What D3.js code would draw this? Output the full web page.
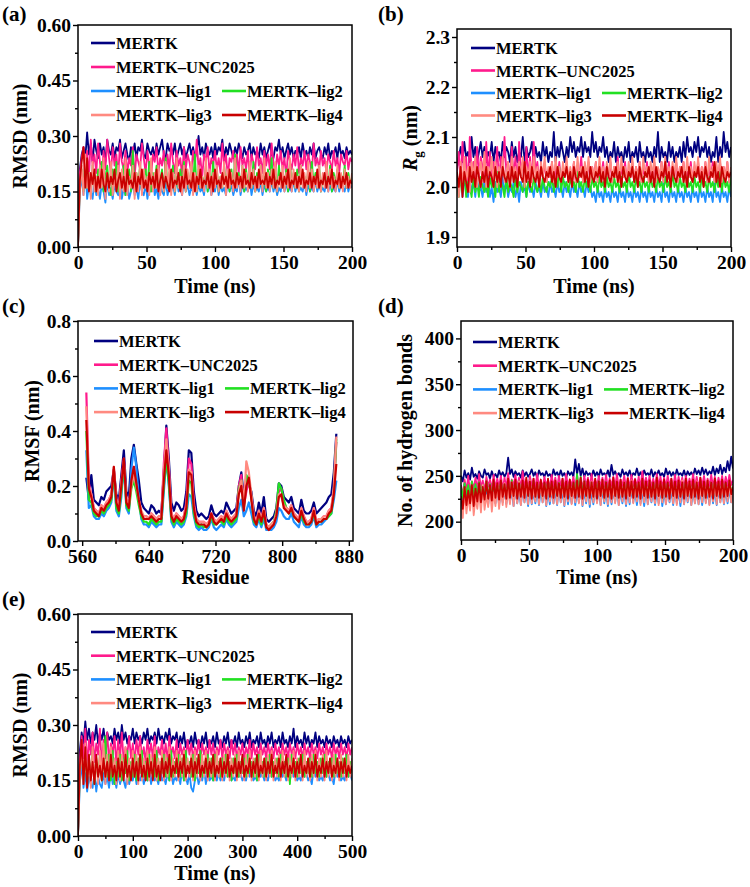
<!DOCTYPE html>
<html><head><meta charset="utf-8">
<script src="https://cdn.jsdelivr.net/npm/d3@7"></script>
<style>
body{margin:0;background:#fff}
svg text{font-family:"Liberation Serif","Times New Roman",serif;font-weight:bold;fill:#000}
</style>
</head><body><svg id="chart" width="750" height="887"></svg>
<script>
// ---------- series ----------
const seriesNames = ["MERTK","MERTK\u2013UNC2025","MERTK\u2013lig1","MERTK\u2013lig2","MERTK\u2013lig3","MERTK\u2013lig4"];
const seriesColors = ["#000080","#ff1a8c","#1e8fff","#22e022","#ff8a80","#c80000"];

// ---------- (a) RMSD, 0-200 ns ----------
const rmsdA_MERTK = [0,.21,.25,.27,.24,.31,.25,.28,.23,.29,.26,.24,.28,.25,.27,
.23,.29,.26,.25,.28,.24,.27,.26,.29,.24,.26,.28,.25,.23,.27,
.25,.28,.24,.27,.26,.29,.25,.24,.28,.26,.25,.27,.24,.28,.25,
.27,.29,.25,.24,.28,.26,.27,.25,.28,.24,.26,.28,.25,.27,.24,
.26,.28,.25,.27,.24,.26,.30,.25,.27,.24,.28,.26,.25,.27,.24,
.28,.25,.27,.26,.29,.24,.27,.25,.28,.26,.24,.27,.25,.28,.26,
.24,.27,.25,.26,.28,.24,.27,.25,.26,.24,.28,.25,.27,.24,.26,
.28,.25,.24,.27,.26,.29,.25,.27,.24,.26,.28,.25,.27,.24,.26,
.25,.27,.24,.28,.25,.26,.24,.27,.25,.28,.24,.26,.27,.25,.24,
.27,.25,.28,.24,.26,.25,.27,.24,.28,.25,.26,.24,.27,.25,.26,.25];
const rmsdA_UNC = [0,.20,.24,.27,.21,.26,.19,.29,.22,.25,.20,.28,.23,.19,.26,
.21,.29,.24,.20,.27,.22,.25,.19,.28,.23,.21,.26,.20,.24,.22,
.27,.19,.25,.23,.21,.28,.24,.20,.26,.22,.19,.25,.23,.27,.20,
.24,.22,.26,.19,.25,.21,.28,.23,.20,.26,.22,.24,.19,.27,.21,
.25,.23,.20,.26,.22,.29,.21,.24,.19,.25,.23,.27,.20,.24,.22,
.26,.21,.24,.20,.28,.22,.25,.19,.24,.23,.26,.21,.25,.20,.27,
.22,.24,.21,.26,.19,.25,.23,.21,.27,.22,.24,.20,.26,.22,.25,
.21,.28,.23,.20,.25,.22,.26,.21,.24,.19,.26,.23,.21,.25,.22,
.27,.20,.24,.22,.26,.21,.25,.23,.20,.28,.22,.24,.21,.26,.22,
.24,.20,.25,.23,.21,.26,.22,.24,.20,.25,.23,.22,.26,.21,.24,.23];
const rmsdA_lig1 = [0,.15,.19,.14,.22,.13,.17,.15,.13,.18,.14,.16,.13,.17,.15,
.12,.18,.14,.16,.13,.17,.15,.14,.19,.13,.16,.14,.18,.13,.15,
.17,.14,.16,.13,.18,.15,.14,.17,.13,.16,.15,.19,.14,.16,.13,
.17,.15,.14,.18,.14,.16,.15,.17,.14,.19,.15,.16,.14,.18,.15,
.17,.14,.16,.15,.18,.14,.17,.15,.16,.14,.19,.15,.17,.14,.16,
.15,.18,.14,.17,.15,.16,.14,.18,.15,.17,.14,.16,.15,.19,.14,
.17,.15,.16,.15,.18,.14,.17,.15,.16,.15,.18,.14,.17,.15,.16,
.15,.18,.15,.17,.14,.16,.15,.19,.15,.17,.15,.16,.15,.18,.15,
.17,.15,.16,.15,.18,.14,.17,.15,.16,.15,.18,.15,.17,.15,.16,
.15,.18,.15,.17,.15,.16,.15,.18,.15,.17,.16,.15,.18,.15,.17,.16];
const rmsdA_lig2 = [0,.17,.21,.15,.24,.16,.20,.14,.22,.17,.15,.21,.16,.23,.15,
.19,.22,.16,.14,.21,.17,.23,.15,.20,.16,.22,.14,.18,.21,.15,
.26,.16,.20,.17,.22,.15,.19,.21,.16,.23,.15,.20,.17,.22,.16,
.18,.21,.15,.24,.16,.20,.17,.22,.15,.19,.16,.21,.17,.23,.15,
.20,.16,.22,.17,.25,.15,.21,.16,.19,.17,.22,.15,.20,.16,.23,
.17,.21,.15,.19,.16,.22,.17,.20,.15,.21,.16,.25,.17,.20,.16,
.22,.15,.21,.17,.19,.16,.23,.15,.20,.17,.22,.16,.19,.15,.21,
.17,.24,.16,.20,.15,.22,.17,.19,.16,.21,.15,.23,.17,.20,.16,
.21,.15,.22,.17,.19,.16,.21,.15,.23,.17,.20,.16,.22,.15,.19,
.17,.21,.16,.22,.15,.20,.17,.21,.16,.19,.17,.22,.16,.20,.17,.19];
const rmsdA_lig3 = [0,.15,.22,.14,.25,.16,.20,.13,.23,.15,.19,.14,.22,.16,.24,
.13,.20,.15,.23,.14,.18,.16,.22,.13,.21,.15,.24,.14,.19,.16,
.22,.13,.20,.15,.23,.14,.21,.16,.19,.14,.24,.15,.20,.16,.22,
.14,.19,.15,.23,.16,.21,.14,.20,.15,.24,.16,.19,.14,.22,.15,
.21,.16,.23,.14,.20,.15,.22,.16,.19,.15,.24,.16,.21,.14,.20,
.16,.22,.15,.19,.16,.23,.14,.21,.16,.20,.15,.24,.16,.19,.15,
.22,.16,.20,.15,.23,.16,.21,.15,.19,.16,.22,.15,.24,.16,.20,
.15,.21,.16,.23,.15,.19,.16,.22,.15,.20,.16,.24,.15,.21,.16,
.19,.15,.22,.16,.20,.15,.23,.16,.21,.15,.19,.16,.22,.15,.20,
.16,.23,.15,.21,.16,.19,.15,.22,.16,.20,.15,.21,.16,.19,.16,.20];
const rmsdA_lig4 = [0,.18,.23,.27,.16,.24,.15,.20,.17,.21,.15,.19,.16,.21,.17,
.15,.20,.16,.19,.17,.21,.15,.18,.20,.16,.19,.15,.21,.17,.18,
.16,.20,.15,.19,.17,.21,.16,.18,.15,.20,.17,.19,.16,.21,.15,
.18,.20,.16,.19,.17,.15,.21,.16,.18,.17,.20,.15,.19,.16,.21,
.17,.18,.16,.20,.15,.19,.17,.21,.16,.18,.17,.20,.16,.19,.15,
.21,.17,.18,.16,.20,.17,.19,.16,.21,.17,.18,.16,.20,.17,.19,
.16,.21,.17,.18,.16,.20,.17,.19,.16,.21,.17,.18,.17,.20,.16,
.19,.17,.21,.16,.18,.17,.20,.16,.19,.17,.21,.16,.18,.17,.20,
.16,.19,.17,.21,.16,.18,.17,.20,.16,.19,.17,.21,.16,.18,.17,
.20,.16,.19,.17,.21,.16,.18,.17,.20,.16,.19,.17,.20,.16,.18,.17];

// ---------- (b) Rg, 0-200 ns ----------
const rgB_MERTK = [2.04,2.06,2.08,2.05,2.09,2.06,2.07,2.05,2.10,2.06,2.08,2.05,2.07,2.09,2.06,
2.08,2.05,2.07,2.06,2.09,2.05,2.08,2.06,2.07,2.05,2.09,2.06,2.08,2.07,2.05,
2.09,2.06,2.08,2.05,2.07,2.06,2.10,2.05,2.08,2.06,2.07,2.09,2.05,2.08,2.06,
2.07,2.05,2.09,2.06,2.08,2.05,2.07,2.06,2.11,2.05,2.08,2.06,2.09,2.07,2.05,
2.08,2.06,2.10,2.07,2.09,2.06,2.08,2.07,2.10,2.06,2.09,2.07,2.08,2.06,2.11,
2.07,2.09,2.06,2.08,2.07,2.10,2.06,2.08,2.05,2.07,2.06,2.09,2.05,2.08,2.06,
2.07,2.05,2.08,2.06,2.09,2.05,2.07,2.06,2.08,2.05,2.09,2.06,2.07,2.05,2.08,
2.06,2.07,2.05,2.08,2.06,2.11,2.05,2.08,2.06,2.07,2.05,2.09,2.06,2.08,2.05,
2.07,2.06,2.08,2.05,2.09,2.06,2.10,2.07,2.08,2.06,2.09,2.07,2.10,2.06,2.08,
2.07,2.09,2.06,2.08,2.05,2.07,2.06,2.10,2.05,2.08,2.06,2.11,2.07,2.09,2.06,2.08];
const rgB_UNC = [2.03,2.07,2.01,2.09,2.02,2.06,2.00,2.10,2.03,2.05,2.01,2.08,2.02,2.06,2.04,
2.00,2.09,2.02,2.07,2.01,2.05,2.03,2.08,2.01,2.06,2.02,2.10,2.03,2.05,2.01,
2.08,2.02,2.06,2.00,2.09,2.03,2.05,2.01,2.08,2.02,2.06,2.01,2.09,2.03,2.05,
2.01,2.04,2.02,2.05,2.01,2.03,2.02,2.05,2.00,2.04,2.02,2.05,2.01,2.04,2.02,
2.05,2.01,2.03,2.02,2.05,2.01,2.04,2.02,2.06,2.01,2.04,2.02,2.05,2.01,2.04,
2.02,2.05,2.01,2.03,2.02,2.05,2.01,2.04,2.02,2.05,2.01,2.04,2.02,2.06,2.01,
2.04,2.02,2.05,2.01,2.03,2.02,2.05,2.01,2.04,2.02,2.05,2.01,2.04,2.02,2.05,
2.01,2.04,2.02,2.05,2.01,2.03,2.02,2.05,2.01,2.04,2.02,2.05,2.01,2.04,2.02,
2.05,2.01,2.04,2.02,2.05,2.01,2.03,2.02,2.05,2.01,2.04,2.02,2.05,2.01,2.04,
2.02,2.05,2.01,2.04,2.02,2.05,2.01,2.03,2.02,2.05,2.01,2.04,2.02,2.05,2.01,2.03];
const rgB_lig1 = [2.02,1.99,2.03,1.98,2.01,2.00,1.98,2.02,1.99,2.01,1.98,2.02,1.99,2.00,1.98,
2.01,1.99,2.02,1.98,2.00,1.97,2.01,1.99,2.00,1.98,2.02,1.99,2.01,1.98,2.00,
1.99,2.01,1.98,2.00,1.97,2.01,1.99,2.00,1.98,2.01,1.99,2.00,1.98,2.01,1.99,
2.00,1.98,2.01,1.99,2.00,1.98,2.01,1.99,2.00,1.98,2.01,1.99,2.00,1.98,2.01,
1.99,2.00,1.98,2.01,1.99,2.00,1.98,2.01,1.99,2.00,1.98,2.01,1.99,2.00,1.98,
1.99,1.97,2.00,1.98,1.99,1.97,2.00,1.98,1.99,1.97,2.00,1.98,1.99,1.97,2.00,
1.98,1.99,1.97,2.00,1.98,1.99,1.97,2.00,1.98,1.99,1.97,2.00,1.98,1.99,1.97,
2.00,1.98,1.99,1.97,2.00,1.98,1.99,1.97,2.01,1.98,1.99,1.97,2.00,1.98,1.99,
1.97,2.00,1.98,1.99,1.97,2.00,1.98,1.99,1.97,2.00,1.98,1.99,1.97,2.00,1.98,
1.99,1.97,2.00,1.98,1.99,1.97,2.01,1.98,1.99,1.97,2.00,1.98,1.99,1.97,2.00,1.98];
const rgB_lig2 = [2.01,1.98,2.02,1.99,2.03,1.98,2.01,2.00,1.98,2.02,1.99,2.01,1.98,2.02,2.00,
1.99,2.01,1.98,2.02,2.00,2.01,1.98,2.03,1.99,2.01,2.00,1.98,2.02,1.99,2.01,
2.00,1.98,2.02,1.99,2.01,2.00,1.99,2.02,1.98,2.01,2.00,1.99,2.02,2.00,1.99,
2.01,1.99,2.02,2.00,1.99,2.01,2.00,2.02,1.99,2.01,2.00,2.04,1.99,2.02,2.00,
2.01,1.99,2.02,2.00,2.01,1.99,2.03,2.00,2.01,1.99,2.02,2.00,2.01,1.99,2.02,
2.00,2.01,1.99,2.02,2.00,2.01,1.99,2.02,2.00,2.01,1.99,2.02,2.00,2.01,1.99,
2.02,2.00,2.01,1.99,2.03,2.00,2.01,1.99,2.02,2.00,2.01,1.99,2.02,2.00,2.01,
1.99,2.02,2.00,2.01,1.99,2.02,2.00,2.01,1.99,2.02,2.00,2.01,1.99,2.03,2.00,
2.01,1.99,2.02,2.00,2.01,1.99,2.02,2.00,2.01,1.99,2.02,2.00,2.01,1.99,2.02,
2.00,2.01,1.99,2.02,2.00,2.01,1.99,2.02,2.00,2.03,1.99,2.02,2.00,2.01,1.99,2.02];
const rgB_lig3 = [2.02,1.98,2.05,2.00,2.06,2.01,2.04,1.99,2.05,2.02,2.06,2.00,2.03,2.05,2.01,
2.07,2.00,2.04,2.02,2.06,2.01,2.05,2.00,2.04,2.02,2.06,2.01,2.03,2.05,2.00,
2.06,2.02,2.04,2.01,2.05,2.02,2.06,2.00,2.04,2.02,2.05,2.01,2.06,2.02,2.04,
2.01,2.05,2.02,2.06,2.01,2.04,2.02,2.05,2.01,2.06,2.02,2.04,2.01,2.05,2.02,
2.06,2.01,2.04,2.02,2.05,2.01,2.06,2.02,2.04,2.01,2.05,2.02,2.06,2.01,2.04,
2.02,2.05,2.01,2.06,2.02,2.04,2.01,2.05,2.02,2.06,2.01,2.04,2.02,2.05,2.01,
2.06,2.02,2.04,2.01,2.05,2.02,2.06,2.01,2.04,2.02,2.05,2.01,2.06,2.02,2.04,
2.01,2.05,2.02,2.06,2.01,2.04,2.02,2.05,2.01,2.06,2.02,2.04,2.01,2.05,2.02,
2.06,2.01,2.04,2.02,2.05,2.01,2.06,2.02,2.04,2.01,2.05,2.02,2.06,2.01,2.04,
2.02,2.05,2.01,2.06,2.02,2.04,2.01,2.05,2.02,2.06,2.01,2.04,2.02,2.05,2.01,2.04];
const rgB_lig4 = [2.03,2.00,2.04,1.98,2.03,2.01,1.99,2.04,2.01,2.03,2.00,2.04,2.02,2.00,2.03,
2.01,2.04,2.00,2.03,2.02,2.00,2.04,2.01,2.03,2.00,2.04,2.02,2.01,2.03,2.00,
2.04,2.01,2.03,2.00,2.04,2.02,2.01,2.05,2.01,2.03,2.00,2.04,2.02,2.01,2.03,
2.00,2.04,2.02,2.01,2.03,2.02,2.04,2.01,2.03,2.00,2.04,2.02,2.01,2.03,2.02,
2.04,2.01,2.03,2.00,2.04,2.02,2.01,2.03,2.02,2.04,2.01,2.03,2.00,2.04,2.02,
2.01,2.03,2.02,2.04,2.01,2.03,2.00,2.04,2.02,2.01,2.03,2.02,2.04,2.01,2.03,
2.00,2.04,2.02,2.01,2.03,2.02,2.04,2.01,2.03,2.00,2.04,2.02,2.01,2.03,2.02,
2.04,2.01,2.03,2.00,2.04,2.02,2.01,2.03,2.02,2.05,2.01,2.03,2.00,2.04,2.02,
2.01,2.03,2.02,2.04,2.01,2.03,2.00,2.04,2.02,2.01,2.03,2.02,2.04,2.01,2.03,
2.00,2.04,2.02,2.01,2.03,2.02,2.05,2.01,2.03,2.00,2.04,2.02,2.01,2.03,2.02,2.03];

// ---------- (c) RMSF, residues 565-865 (every 3rd residue) ----------
const residueStart = 565, residueStep = 3;
const rmsf_MERTK = [.23,.15,.24,.15,.14,.13,.16,.15,.18,.19,.20,.26,.17,.15,.24,.33,.18,.16,.30,.35,.28,.22,.14,.12,.11,.10,.13,.12,.10,.11,.10,.25,.42,.30,.14,.11,.14,.13,.11,.12,.18,.33,.32,.18,.11,.09,.10,.09,.08,.09,.13,.10,.09,.10,.11,.10,.14,.12,.10,.11,.12,.20,.25,.16,.19,.21,.18,.11,.09,.14,.10,.16,.08,.07,.08,.09,.12,.21,.20,.16,.15,.14,.16,.12,.11,.10,.15,.11,.10,.10,.11,.14,.10,.11,.12,.13,.14,.16,.17,.25,.39];
const rmsf_UNC = [.54,.21,.17,.12,.11,.10,.13,.12,.14,.15,.17,.26,.15,.12,.22,.30,.15,.13,.22,.27,.21,.15,.10,.09,.09,.08,.10,.09,.08,.09,.09,.28,.41,.27,.10,.08,.10,.09,.08,.09,.14,.30,.28,.14,.08,.07,.07,.07,.06,.07,.10,.08,.07,.08,.09,.08,.11,.09,.08,.09,.10,.20,.24,.13,.18,.22,.16,.09,.07,.11,.08,.12,.06,.05,.06,.07,.10,.18,.19,.14,.12,.11,.13,.10,.09,.08,.12,.09,.07,.07,.08,.12,.07,.08,.08,.09,.09,.11,.12,.18,.36];
const rmsf_lig1 = [.33,.12,.13,.09,.08,.08,.10,.09,.11,.12,.14,.24,.11,.09,.16,.28,.12,.10,.26,.34,.27,.15,.08,.06,.06,.05,.07,.06,.05,.06,.06,.18,.30,.20,.07,.05,.07,.06,.05,.06,.09,.17,.16,.09,.05,.04,.05,.04,.04,.05,.08,.05,.04,.05,.06,.05,.08,.06,.05,.06,.07,.12,.15,.09,.11,.14,.10,.06,.05,.08,.05,.08,.04,.04,.04,.05,.07,.12,.11,.09,.08,.08,.10,.07,.06,.05,.09,.06,.05,.05,.06,.09,.05,.06,.06,.07,.08,.09,.10,.15,.22];
const rmsf_lig2 = [.40,.15,.14,.10,.09,.09,.11,.10,.12,.13,.15,.25,.12,.10,.18,.28,.13,.11,.19,.22,.18,.13,.09,.07,.07,.06,.08,.07,.06,.07,.07,.20,.30,.21,.08,.06,.08,.07,.06,.07,.10,.22,.21,.10,.06,.05,.06,.05,.05,.06,.09,.06,.06,.07,.07,.06,.09,.07,.06,.07,.08,.19,.22,.12,.24,.22,.16,.07,.06,.09,.06,.10,.05,.05,.06,.07,.11,.21,.19,.15,.12,.10,.12,.09,.08,.07,.10,.07,.06,.06,.07,.10,.06,.07,.07,.08,.08,.09,.10,.18,.37];
const rmsf_lig3 = [.49,.20,.17,.12,.11,.10,.13,.12,.14,.15,.17,.27,.15,.12,.21,.29,.15,.13,.20,.24,.20,.15,.11,.09,.09,.08,.10,.09,.08,.09,.09,.25,.37,.26,.10,.08,.10,.09,.08,.09,.13,.26,.25,.13,.08,.07,.07,.07,.06,.07,.10,.08,.07,.08,.09,.08,.11,.09,.08,.09,.10,.18,.22,.13,.29,.25,.17,.09,.07,.11,.08,.12,.06,.05,.06,.07,.10,.17,.16,.13,.12,.11,.13,.10,.09,.08,.12,.09,.07,.07,.08,.12,.07,.08,.08,.09,.09,.11,.12,.20,.38];
const rmsf_lig4 = [.44,.19,.16,.11,.10,.09,.12,.11,.13,.14,.16,.27,.14,.11,.20,.30,.14,.12,.22,.27,.21,.15,.10,.08,.08,.08,.09,.08,.07,.08,.08,.22,.33,.24,.09,.07,.09,.08,.07,.08,.12,.25,.24,.12,.07,.06,.06,.06,.05,.06,.10,.07,.06,.07,.08,.07,.10,.08,.07,.08,.09,.17,.20,.11,.20,.23,.15,.08,.06,.10,.07,.11,.05,.04,.05,.06,.09,.16,.17,.12,.11,.10,.12,.09,.08,.07,.11,.08,.06,.06,.07,.11,.06,.07,.07,.08,.08,.10,.11,.17,.28];

// ---------- (d) hydrogen bonds, 0-200 ns ----------
const hb_MERTK = [250,244,256,248,253,246,259,249,252,247,255,250,248,257,251,
253,247,255,249,252,248,256,250,254,249,253,270,252,257,249,
255,251,253,248,256,250,254,249,252,257,250,254,248,256,251,
253,249,255,250,252,248,257,251,254,249,256,250,253,248,255,
251,254,249,268,252,263,250,258,249,255,251,253,249,256,250,
254,249,257,251,253,250,256,249,262,251,255,250,253,249,257,
251,254,250,256,249,253,251,258,250,254,249,256,251,253,250,
257,249,254,251,256,250,253,249,258,251,255,250,254,249,257,
251,253,250,256,249,255,251,254,250,258,252,256,251,259,252,
257,251,255,252,260,251,258,253,262,252,259,254,266,256,271,258];
const hb_UNC = [240,228,246,233,250,231,244,236,248,234,252,237,245,233,249,
238,246,235,251,236,247,238,250,235,248,237,253,236,246,239,
251,237,248,236,255,238,246,237,250,239,247,236,252,238,245,
237,249,239,246,236,251,238,248,237,250,239,247,236,252,238,
246,239,249,237,251,238,247,236,250,239,248,237,252,238,246,
239,250,237,248,238,251,236,247,239,249,238,252,237,246,239,
250,238,248,237,251,239,247,238,249,237,255,238,248,239,250,
237,247,238,252,239,249,237,248,238,250,239,247,237,251,238,
249,239,248,237,250,238,247,239,252,238,249,237,248,239,250,
238,247,239,251,238,249,237,248,239,250,238,249,239,251,240,245];
const hb_lig1 = [236,224,241,222,237,225,234,221,238,226,233,220,236,223,235,
219,237,222,234,220,236,218,233,221,235,219,237,222,234,217,
236,220,233,218,235,221,234,217,236,219,233,220,235,218,234,
221,236,217,233,219,235,220,234,218,236,221,233,217,235,219,
234,220,236,218,233,221,235,217,234,220,236,216,233,219,235,
221,234,218,236,220,233,217,235,219,234,221,236,218,233,220,
235,217,234,219,236,221,233,218,235,220,234,217,236,219,233,
221,235,218,234,220,236,217,233,219,235,221,234,218,236,220,
233,217,235,219,234,221,236,218,233,220,235,219,234,218,236,
221,233,219,235,220,234,218,236,221,235,219,234,220,236,221,235];
const hb_lig2 = [238,226,242,229,240,225,244,227,241,226,243,228,240,225,244,
227,241,226,243,228,240,225,244,229,241,227,243,226,245,228,
242,227,244,226,241,228,243,225,242,227,244,226,241,228,243,
225,242,227,244,226,241,228,243,225,242,227,244,226,241,228,
243,225,242,227,252,229,249,228,244,226,241,228,243,225,242,
227,244,226,241,224,243,227,242,226,244,228,241,225,243,227,
242,226,244,228,241,224,243,227,242,226,244,228,241,225,243,
227,242,226,244,228,241,224,243,227,242,226,244,228,241,225,
243,227,242,226,244,228,241,224,243,227,242,226,244,228,241,
225,243,227,242,226,244,228,241,224,243,227,242,226,244,228,241];
const hb_lig3 = [222,204,236,209,228,212,238,207,226,214,233,210,240,213,229,
216,238,211,232,217,241,214,235,218,242,216,237,219,243,217,
240,220,244,218,239,221,243,219,245,220,238,222,242,219,244,
221,240,218,243,222,239,220,245,219,241,221,244,218,240,222,
243,219,239,221,245,220,241,218,243,222,240,219,244,221,239,
220,242,218,245,222,240,219,243,221,239,220,244,218,241,222,
243,219,240,221,245,220,239,222,242,218,244,221,240,219,243,
222,239,220,245,218,241,221,243,219,240,222,244,220,239,218,
242,221,245,219,240,222,243,218,241,220,244,219,239,221,242,
220,245,218,240,222,243,219,241,221,244,220,239,222,243,221,240];
const hb_lig4 = [228,214,238,218,234,220,240,217,236,222,242,221,238,224,244,
225,240,223,246,226,242,224,245,227,241,225,247,226,243,228,
246,225,242,227,245,226,248,228,244,225,247,227,243,226,246,
228,243,225,247,227,244,226,245,228,242,226,247,227,244,225,
246,228,243,226,245,227,248,225,244,228,246,226,243,227,247,
225,244,228,246,226,243,227,245,225,248,228,244,226,246,227,
243,225,247,228,244,226,246,227,243,225,247,228,244,226,245,
227,243,225,248,228,244,226,246,227,243,225,247,228,244,226,
245,227,243,225,247,228,244,226,246,227,243,225,248,228,244,
226,245,227,243,225,247,228,244,226,246,227,243,228,245,230,238];

// ---------- (e) RMSD, 0-500 ns ----------
const rmsdE_MERTK = [0,.23,.28,.25,.31,.26,.29,.25,.28,.26,.30,.25,.28,.26,.29,
.25,.28,.26,.27,.25,.29,.26,.28,.25,.30,.26,.28,.25,.27,.26,
.29,.25,.28,.26,.27,.25,.28,.26,.29,.25,.27,.26,.28,.25,.29,
.26,.27,.25,.28,.26,.29,.25,.27,.26,.28,.24,.27,.25,.28,.24,
.26,.25,.27,.24,.28,.25,.26,.24,.27,.25,.28,.24,.26,.25,.27,
.24,.28,.25,.26,.24,.27,.25,.28,.24,.26,.25,.27,.24,.28,.25,
.26,.24,.27,.25,.28,.24,.26,.25,.27,.24,.28,.25,.26,.24,.27,
.25,.28,.24,.26,.25,.27,.24,.28,.25,.26,.24,.27,.25,.29,.24,
.27,.25,.26,.24,.28,.25,.27,.24,.26,.25,.28,.24,.27,.25,.26,
.24,.27,.25,.26,.24,.27,.25,.26,.24,.27,.25,.26,.24,.27,.25,.26];
const rmsdE_UNC = [0,.20,.27,.21,.29,.19,.26,.22,.28,.20,.25,.22,.29,.19,.26,
.21,.28,.20,.25,.22,.27,.19,.26,.21,.28,.20,.24,.22,.27,.21,
.25,.20,.26,.22,.27,.21,.24,.20,.26,.22,.25,.21,.27,.20,.24,
.22,.26,.21,.25,.20,.27,.22,.24,.21,.26,.20,.25,.22,.24,.21,
.26,.22,.25,.21,.24,.22,.26,.21,.25,.22,.24,.21,.26,.22,.25,
.21,.24,.22,.26,.21,.25,.22,.24,.21,.26,.22,.25,.21,.24,.22,
.25,.21,.24,.22,.26,.21,.25,.22,.24,.21,.25,.22,.24,.21,.25,
.22,.24,.21,.25,.22,.24,.21,.25,.22,.24,.21,.25,.22,.24,.21,
.25,.22,.24,.21,.25,.22,.24,.21,.25,.22,.24,.21,.25,.22,.24,
.21,.25,.22,.24,.21,.25,.22,.24,.21,.25,.22,.24,.21,.25,.22,.24];
const rmsdE_lig1 = [0,.14,.20,.13,.17,.12,.16,.14,.13,.17,.12,.16,.14,.13,.17,
.14,.16,.13,.18,.14,.16,.13,.17,.14,.16,.15,.13,.17,.14,.16,
.15,.18,.14,.16,.15,.17,.14,.16,.15,.18,.14,.17,.15,.16,.14,
.18,.15,.16,.14,.17,.15,.18,.14,.16,.15,.17,.14,.18,.15,.16,
.14,.17,.13,.12,.15,.17,.14,.16,.15,.18,.14,.17,.15,.16,.15,
.18,.15,.17,.15,.16,.15,.18,.16,.17,.15,.16,.15,.18,.16,.17,
.15,.16,.15,.18,.16,.17,.15,.16,.15,.18,.16,.17,.15,.16,.15,
.18,.16,.17,.15,.16,.15,.18,.16,.17,.15,.16,.15,.18,.16,.17,
.15,.16,.15,.18,.16,.17,.15,.16,.14,.18,.16,.17,.15,.16,.15,
.18,.16,.17,.15,.16,.14,.18,.16,.17,.15,.16,.15,.18,.16,.17,.15];
const rmsdE_lig2 = [0,.17,.23,.15,.22,.14,.21,.16,.23,.14,.20,.16,.22,.15,.21,
.27,.16,.22,.15,.23,.14,.20,.16,.22,.15,.21,.17,.23,.15,.20,
.16,.22,.15,.21,.17,.23,.16,.20,.15,.22,.17,.21,.16,.23,.15,
.20,.17,.22,.16,.21,.15,.23,.16,.20,.17,.22,.16,.21,.15,.23,
.17,.20,.16,.22,.15,.21,.17,.23,.16,.20,.17,.22,.16,.21,.15,
.22,.17,.20,.16,.21,.17,.22,.16,.20,.15,.21,.17,.22,.16,.20,
.17,.21,.16,.22,.17,.20,.16,.21,.15,.22,.17,.20,.16,.21,.17,
.22,.16,.20,.17,.21,.16,.22,.17,.20,.16,.21,.14,.22,.17,.20,
.16,.21,.17,.22,.16,.20,.17,.21,.16,.22,.17,.20,.16,.21,.17,
.22,.16,.20,.17,.21,.16,.22,.17,.20,.16,.21,.17,.22,.16,.20,.17];
const rmsdE_lig3 = [0,.16,.24,.14,.25,.15,.22,.13,.24,.15,.21,.14,.23,.16,.25,
.14,.22,.15,.24,.16,.21,.14,.23,.15,.22,.16,.24,.14,.21,.15,
.23,.16,.22,.14,.24,.15,.21,.16,.23,.15,.22,.16,.24,.15,.21,
.16,.23,.15,.22,.16,.24,.15,.21,.16,.23,.15,.22,.16,.23,.15,
.21,.16,.22,.15,.23,.16,.21,.15,.22,.16,.23,.15,.21,.16,.22,
.15,.23,.16,.21,.15,.22,.16,.23,.15,.21,.16,.22,.15,.23,.16,
.21,.15,.22,.16,.23,.15,.21,.16,.22,.15,.23,.16,.21,.15,.22,
.16,.23,.15,.21,.16,.22,.15,.23,.16,.21,.15,.22,.16,.23,.15,
.21,.16,.22,.15,.23,.16,.21,.15,.22,.16,.23,.15,.21,.16,.22,
.15,.23,.16,.21,.15,.22,.16,.21,.15,.22,.16,.21,.15,.22,.16,.21];
const rmsdE_lig4 = [0,.19,.26,.14,.24,.13,.22,.15,.20,.14,.22,.16,.19,.15,.21,
.16,.20,.15,.22,.16,.19,.15,.21,.16,.20,.15,.22,.16,.19,.15,
.21,.16,.20,.15,.22,.16,.19,.15,.21,.16,.20,.15,.22,.16,.19,
.15,.21,.16,.20,.17,.22,.16,.19,.17,.21,.16,.20,.17,.22,.16,
.19,.17,.21,.16,.20,.17,.22,.16,.19,.17,.21,.16,.20,.17,.22,
.16,.19,.17,.21,.16,.20,.17,.22,.16,.19,.17,.21,.16,.20,.17,
.22,.16,.19,.17,.21,.16,.20,.17,.22,.16,.19,.17,.21,.16,.20,
.17,.22,.16,.19,.17,.21,.16,.20,.17,.22,.16,.19,.17,.21,.16,
.20,.17,.22,.16,.19,.17,.21,.16,.20,.17,.22,.16,.19,.17,.21,
.16,.20,.17,.21,.16,.19,.17,.21,.16,.20,.17,.21,.16,.19,.17,.19];

// ---------- tick labels ----------
const ticksRMSD = [0,0.15,0.30,0.45,0.60];
const ticksRg = [1.9,2.0,2.1,2.2,2.3];
const ticksRMSF = [0,0.2,0.4,0.6,0.8];
const ticksHB = [200,250,300,350,400];
const ticksTime200 = [0,50,100,150,200];
const ticksTime500 = [0,100,200,300,400,500];
const ticksResidue = [560,640,720,800,880];

// ---------- drawing ----------
const svg = d3.select("#chart");
const tickFont = 19.5, titleFont = 20, legendFont = 16.5;

function drawPanel(cfg){
  const [x0,x1,y0,y1] = cfg.box;
  const x = d3.scaleLinear().domain(cfg.xDomain).range([x0,x1]);
  const y = d3.scaleLinear().domain(cfg.yDomain).range([y1,y0]);
  const g = svg.append("g");
  const clipId = "clip-" + cfg.id;
  svg.append("clipPath").attr("id",clipId).append("rect")
    .attr("x",x0).attr("y",y0).attr("width",x1-x0).attr("height",y1-y0);
  const lines = g.append("g").attr("clip-path",`url(#${clipId})`);
  cfg.series.forEach((vals,k)=>{
    const line = d3.line()
      .x((d,i)=>x(cfg.xOf(i,vals.length)))
      .y(d=>y(d));
    lines.append("path").attr("d",line(vals))
      .attr("fill","none").attr("stroke",seriesColors[k])
      .attr("stroke-width",cfg.lw).attr("stroke-linejoin","round");
  });
  g.append("rect").attr("x",x0).attr("y",y0).attr("width",x1-x0).attr("height",y1-y0)
    .attr("fill","none").attr("stroke","#000").attr("stroke-width",1.5);
  const ax = g.append("g").attr("transform",`translate(0,${y1})`)
    .call(d3.axisBottom(x).tickValues(cfg.xTicks).tickSize(5).tickPadding(3).tickSizeOuter(0).tickFormat(d3.format("d")));
  const axm = g.append("g").attr("transform",`translate(0,${y1})`)
    .call(d3.axisBottom(x).tickValues(cfg.xMinor).tickSize(3).tickSizeOuter(0).tickFormat(""));
  const ay = g.append("g").attr("transform",`translate(${x0},0)`)
    .call(d3.axisLeft(y).tickValues(cfg.yTicks).tickSize(5).tickPadding(2).tickSizeOuter(0).tickFormat(cfg.yFmt));
  const aym = g.append("g").attr("transform",`translate(${x0},0)`)
    .call(d3.axisLeft(y).tickValues(cfg.yMinor).tickSize(3).tickSizeOuter(0).tickFormat(""));
  [ax,axm,ay,aym].forEach(a=>{
    a.select(".domain").remove();
    a.selectAll("line").attr("stroke","#000").attr("stroke-width",1.4);
    a.selectAll("text").attr("font-size",tickFont).attr("fill","#000");
  });
  g.append("text").attr("x",(x0+x1)/2).attr("y",cfg.xTitleY).attr("text-anchor","middle")
    .attr("font-size",titleFont).text(cfg.xTitle);
  const yt = g.append("text").attr("transform",`translate(${cfg.yTitleX},${(y0+y1)/2}) rotate(-90)`)
    .attr("text-anchor","middle").attr("dy","0.35em").attr("font-size",titleFont);
  cfg.yTitle(yt);
  g.append("text").attr("x",cfg.labelPos[0]).attr("y",cfg.labelPos[1]).attr("font-size",21).text(cfg.label);
  const slots = [[0,0],[0,1],[0,2],[1,2],[0,3],[1,3]];
  const lg = g.append("g").attr("transform",`translate(${x0+cfg.legendOff[0]},${y0+cfg.legendOff[1]})`);
  seriesNames.forEach((name,k)=>{
    const [c,r] = slots[k];
    const lx = c*131, ly = r*cfg.legendRow;
    lg.append("line").attr("x1",lx).attr("x2",lx+24).attr("y1",ly).attr("y2",ly)
      .attr("stroke",seriesColors[k]).attr("stroke-width",2.6);
    lg.append("text").attr("x",lx+25).attr("y",ly+6).attr("font-size",legendFont).text(name);
  });
}

const timeX = tMax => (i,n) => i*tMax/(n-1);
const plainTitle = s => t => t.text(s);
const tsWidth = 1.8;

drawPanel({id:"a",label:"(a)",labelPos:[2,21],box:[78,352,25,247],
  xDomain:[0,200],yDomain:[0,0.6],xTicks:ticksTime200,xMinor:[25,75,125,175],
  yTicks:ticksRMSD,yMinor:[0.075,0.225,0.375,0.525],yFmt:d3.format(".2f"),
  series:[rmsdA_MERTK,rmsdA_UNC,rmsdA_lig1,rmsdA_lig2,rmsdA_lig3,rmsdA_lig4],
  xOf:timeX(200),lw:tsWidth,xTitle:"Time (ns)",xTitleY:293,yTitleX:20,yTitle:plainTitle("RMSD (nm)"),
  legendOff:[13,18],legendRow:24});

drawPanel({id:"b",label:"(b)",labelPos:[378,21],box:[457,731,29,247],
  xDomain:[0,200],yDomain:[1.88,2.316],xTicks:ticksTime200,xMinor:[25,75,125,175],
  yTicks:ticksRg,yMinor:[1.95,2.05,2.15,2.25],yFmt:d3.format(".1f"),
  series:[rgB_MERTK,rgB_UNC,rgB_lig1,rgB_lig2,rgB_lig3,rgB_lig4],
  xOf:timeX(200),lw:tsWidth,xTitle:"Time (ns)",xTitleY:293,yTitleX:410,
  yTitle:t=>{t.append("tspan").attr("font-style","italic").text("R");
             t.append("tspan").attr("font-size",13).attr("dy",5).text("g");
             t.append("tspan").attr("dy",-5).text(" (nm)");},
  legendOff:[14,19],legendRow:22.5});

drawPanel({id:"c",label:"(c)",labelPos:[2,313],box:[78,353,321,541],
  xDomain:[555,885],yDomain:[0,0.8],xTicks:ticksResidue,xMinor:[600,680,760,840],
  yTicks:ticksRMSF,yMinor:[0.1,0.3,0.5,0.7],yFmt:d3.format(".1f"),
  series:[rmsf_MERTK,rmsf_UNC,rmsf_lig1,rmsf_lig2,rmsf_lig3,rmsf_lig4],
  xOf:(i)=>residueStart+i*residueStep,lw:2.2,xTitle:"Residue",xTitleY:584,yTitleX:32,yTitle:plainTitle("RMSF (nm)"),
  legendOff:[16,20],legendRow:23.7});

drawPanel({id:"d",label:"(d)",labelPos:[378,313],box:[461,733,321,540],
  xDomain:[0,200],yDomain:[180,419],xTicks:ticksTime200,xMinor:[25,75,125,175],
  yTicks:ticksHB,yMinor:[225,275,325,375],yFmt:d3.format("d"),
  series:[hb_MERTK,hb_UNC,hb_lig1,hb_lig2,hb_lig3,hb_lig4],
  xOf:timeX(200),lw:tsWidth,xTitle:"Time (ns)",xTitleY:584,yTitleX:405,yTitle:plainTitle("No. of hydrogen bonds"),
  legendOff:[12,21],legendRow:23.7});

drawPanel({id:"e",label:"(e)",labelPos:[2,606],box:[78,352,614,836],
  xDomain:[0,500],yDomain:[0,0.6],xTicks:ticksTime500,xMinor:[50,150,250,350,450],
  yTicks:ticksRMSD,yMinor:[0.075,0.225,0.375,0.525],yFmt:d3.format(".2f"),
  series:[rmsdE_MERTK,rmsdE_UNC,rmsdE_lig1,rmsdE_lig2,rmsdE_lig3,rmsdE_lig4],
  xOf:timeX(500),lw:tsWidth,xTitle:"Time (ns)",xTitleY:880,yTitleX:20,yTitle:plainTitle("RMSD (nm)"),
  legendOff:[13,18],legendRow:23.7});
</script>
</body></html>
